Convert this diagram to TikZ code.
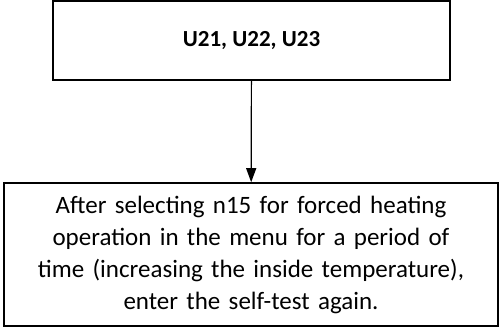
\documentclass[tikz,border=0pt]{standalone}
\usepackage{fontspec}
\setmainfont{Carlito}
\usetikzlibrary{arrows.meta}

\begin{document}
\begin{tikzpicture}[x=1pt, y=1pt, every node/.style={font=\fontsize{25}{32}\selectfont}, >={Triangle[length=14pt, width=10pt]}]
	\useasboundingbox (0,0) rectangle (503,327);
	\tikzset{box/.style={draw, line width=1.6pt, align=center, inner sep=0pt}}
	\node[box, minimum width=397pt, minimum height=79pt, font=\fontsize{23}{28}\selectfont\bfseries] (codes) at (251.5,286.5) {U21, U22, U23};
	\node[box, minimum width=494pt, minimum height=143pt, text width=490pt] (action) at (251,72.5) {After selecting n15 for forced heating\\operation in the menu for a period of\\time (increasing the inside temperature),\\enter the self-test again.};
	\draw[->, line width=1.2pt] (codes) -- (action);
\end{tikzpicture}
\end{document}
